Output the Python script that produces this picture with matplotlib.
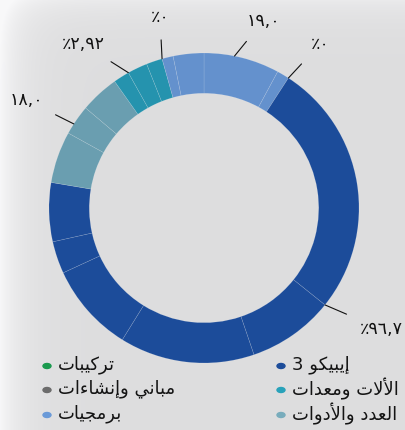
import matplotlib
matplotlib.use("Agg")
import matplotlib.pyplot as plt
import numpy as np

# wedge sizes (degrees of the ring), grouped by category, clockwise from the top
software_a = [28.4, 4.6]
epico3 = [95.7, 32.5, 50.6, 33.5, 12.1, 22.1]
tools = [19.4, 11.3, 14.6]
machines = [6.0, 7.5, 6.0]
software_b = [4.2, 11.5]

C_EPICO = "#1c4c9a"
C_TOOLS = "#6a9eb0"
C_MACH = "#2593ae"
C_SOFT = "#6491cd"

sizes = software_a + epico3 + tools + machines + software_b
colors = ([C_SOFT] * len(software_a) + [C_EPICO] * len(epico3) + [C_TOOLS] * len(tools)
          + [C_MACH] * len(machines) + [C_SOFT] * len(software_b))

# callouts: (text, wedge index, position inside the wedge 0..1, text position in px)
callouts = [
    ("٪٩٦,٧", 2, 1.0, (381, 329)),
    ("١٨,٠", 9, 0.35, (26, 100)),
    ("٪٢,٩٢", 11, 1.0, (83, 44)),
    ("٪٠", 13, 1.0, (160, 17)),
    ("١٩,٠", 0, 0.4, (263, 21)),
    ("٪٠", 1, 1.0, (320, 44)),
]

legend_left = ["تركيبات", "مباني وإنشاءات", "برمجيات"]
legend_left_colors = ["#1a9a4e", "#6c6c6c", "#6a9ad8"]
legend_right = ["إيبيكو 3", "الألات ومعدات", "العدد والأدوات"]
legend_right_colors = ["#1c4c9a", "#28a2ba", "#78acbc"]

# --- minimal arabic shaping (matplotlib does not join letters by itself)
FORMS = {
    'ا': (0xFE8D, 0xFE8E), 'أ': (0xFE83, 0xFE84), 'إ': (0xFE87, 0xFE88),
    'ء': (0xFE80,), 'د': (0xFEA9, 0xFEAA), 'ر': (0xFEAD, 0xFEAE),
    'و': (0xFEED, 0xFEEE),
    'ب': (0xFE8F, 0xFE90, 0xFE91, 0xFE92), 'ت': (0xFE95, 0xFE96, 0xFE97, 0xFE98),
    'ج': (0xFE9D, 0xFE9E, 0xFE9F, 0xFEA0), 'ش': (0xFEB5, 0xFEB6, 0xFEB7, 0xFEB8),
    'ع': (0xFEC9, 0xFECA, 0xFECB, 0xFECC), 'ك': (0xFED9, 0xFEDA, 0xFEDB, 0xFEDC),
    'ل': (0xFEDD, 0xFEDE, 0xFEDF, 0xFEE0), 'م': (0xFEE1, 0xFEE2, 0xFEE3, 0xFEE4),
    'ن': (0xFEE5, 0xFEE6, 0xFEE7, 0xFEE8), 'ي': (0xFEF1, 0xFEF2, 0xFEF3, 0xFEF4),
}
LAM_ALEF = {'ا': (0xFEFB, 0xFEFC), 'أ': (0xFEF7, 0xFEF8), 'إ': (0xFEF9, 0xFEFA)}


def shape(s):
    out = []
    i = 0
    while i < len(s):
        c = s[i]
        if c not in FORMS:
            out.append(c)
            i += 1
            continue
        prev = s[i - 1] if i > 0 else None
        joins_prev = prev in FORMS and len(FORMS[prev]) == 4
        if c == 'ل' and i + 1 < len(s) and s[i + 1] in LAM_ALEF:
            out.append(chr(LAM_ALEF[s[i + 1]][1 if joins_prev else 0]))
            i += 2
            continue
        nxt = s[i + 1] if i + 1 < len(s) else None
        f = FORMS[c]
        joins_next = len(f) == 4 and nxt in FORMS and nxt != 'ء'
        if len(f) == 1:
            g = f[0]
        elif joins_prev and joins_next:
            g = f[3]
        elif joins_prev:
            g = f[1]
        elif joins_next:
            g = f[2]
        else:
            g = f[0]
        out.append(chr(g))
        i += 1
    return "".join(reversed(out))


W, H = 406, 430
CX, CY, R = 204, 208, 155


def px(x, y):
    return (x - CX) / R, (CY - y) / R


fig = plt.figure(figsize=(W / 100, H / 100), dpi=100)
ax = fig.add_axes([0, 0, 1, 1])

# soft grey backdrop, lighter towards the left edge and the top
xx = np.linspace(0, W, W)[None, :]
yy = np.linspace(0, H, H)[:, None]
bg = 0.868 + 0.10 * np.exp(-xx / 22.0) + 0.05 * np.exp(-yy / 18.0) * np.ones_like(xx)
bg = np.clip(bg, 0, 0.975)
x0, y0 = px(0, H)
x1, y1 = px(W, 0)
ax.imshow(np.dstack([bg, bg, bg * 1.005]).clip(0, 1), extent=[x0, x1, y0, y1],
          aspect="auto", zorder=0)

wedges, _ = ax.pie(sizes, colors=colors, startangle=90, counterclock=False, radius=1.0,
                   wedgeprops=dict(width=0.26, edgecolor=(1, 1, 1, 0.2), linewidth=0.4))
for w in wedges:
    w.set_zorder(2)

cum = np.concatenate([[0], np.cumsum(sizes)])
for text, idx, frac, (tx, ty) in callouts:
    ang = np.deg2rad(90 - (cum[idx] + frac * sizes[idx]))
    ax.annotate(text, xy=(np.cos(ang), np.sin(ang)), xytext=px(tx, ty),
                ha="center", va="center", fontsize=12.5, color="#111111",
                family="DejaVu Sans", zorder=4,
                arrowprops=dict(arrowstyle="-", color="#111111", lw=0.8,
                                shrinkA=8, shrinkB=0))

rows = [366, 390, 415]
for labels, cols, dot_x in [(legend_left, legend_left_colors, 47),
                            (legend_right, legend_right_colors, 281)]:
    for lab, col, y in zip(labels, cols, rows):
        ax.add_patch(matplotlib.patches.Ellipse(px(dot_x, y), 8 / R, 5 / R,
                                                color=col, zorder=3))
        ax.text(*px(dot_x + 11, y - 1), shape(lab), ha="left", va="center",
                fontsize=13, color="#141414", family="DejaVu Sans", zorder=4)

ax.set_xlim(x0, x1)
ax.set_ylim(y0, y1)
ax.set_aspect("auto")
ax.axis("off")

fig.savefig("out.png", dpi=100)
